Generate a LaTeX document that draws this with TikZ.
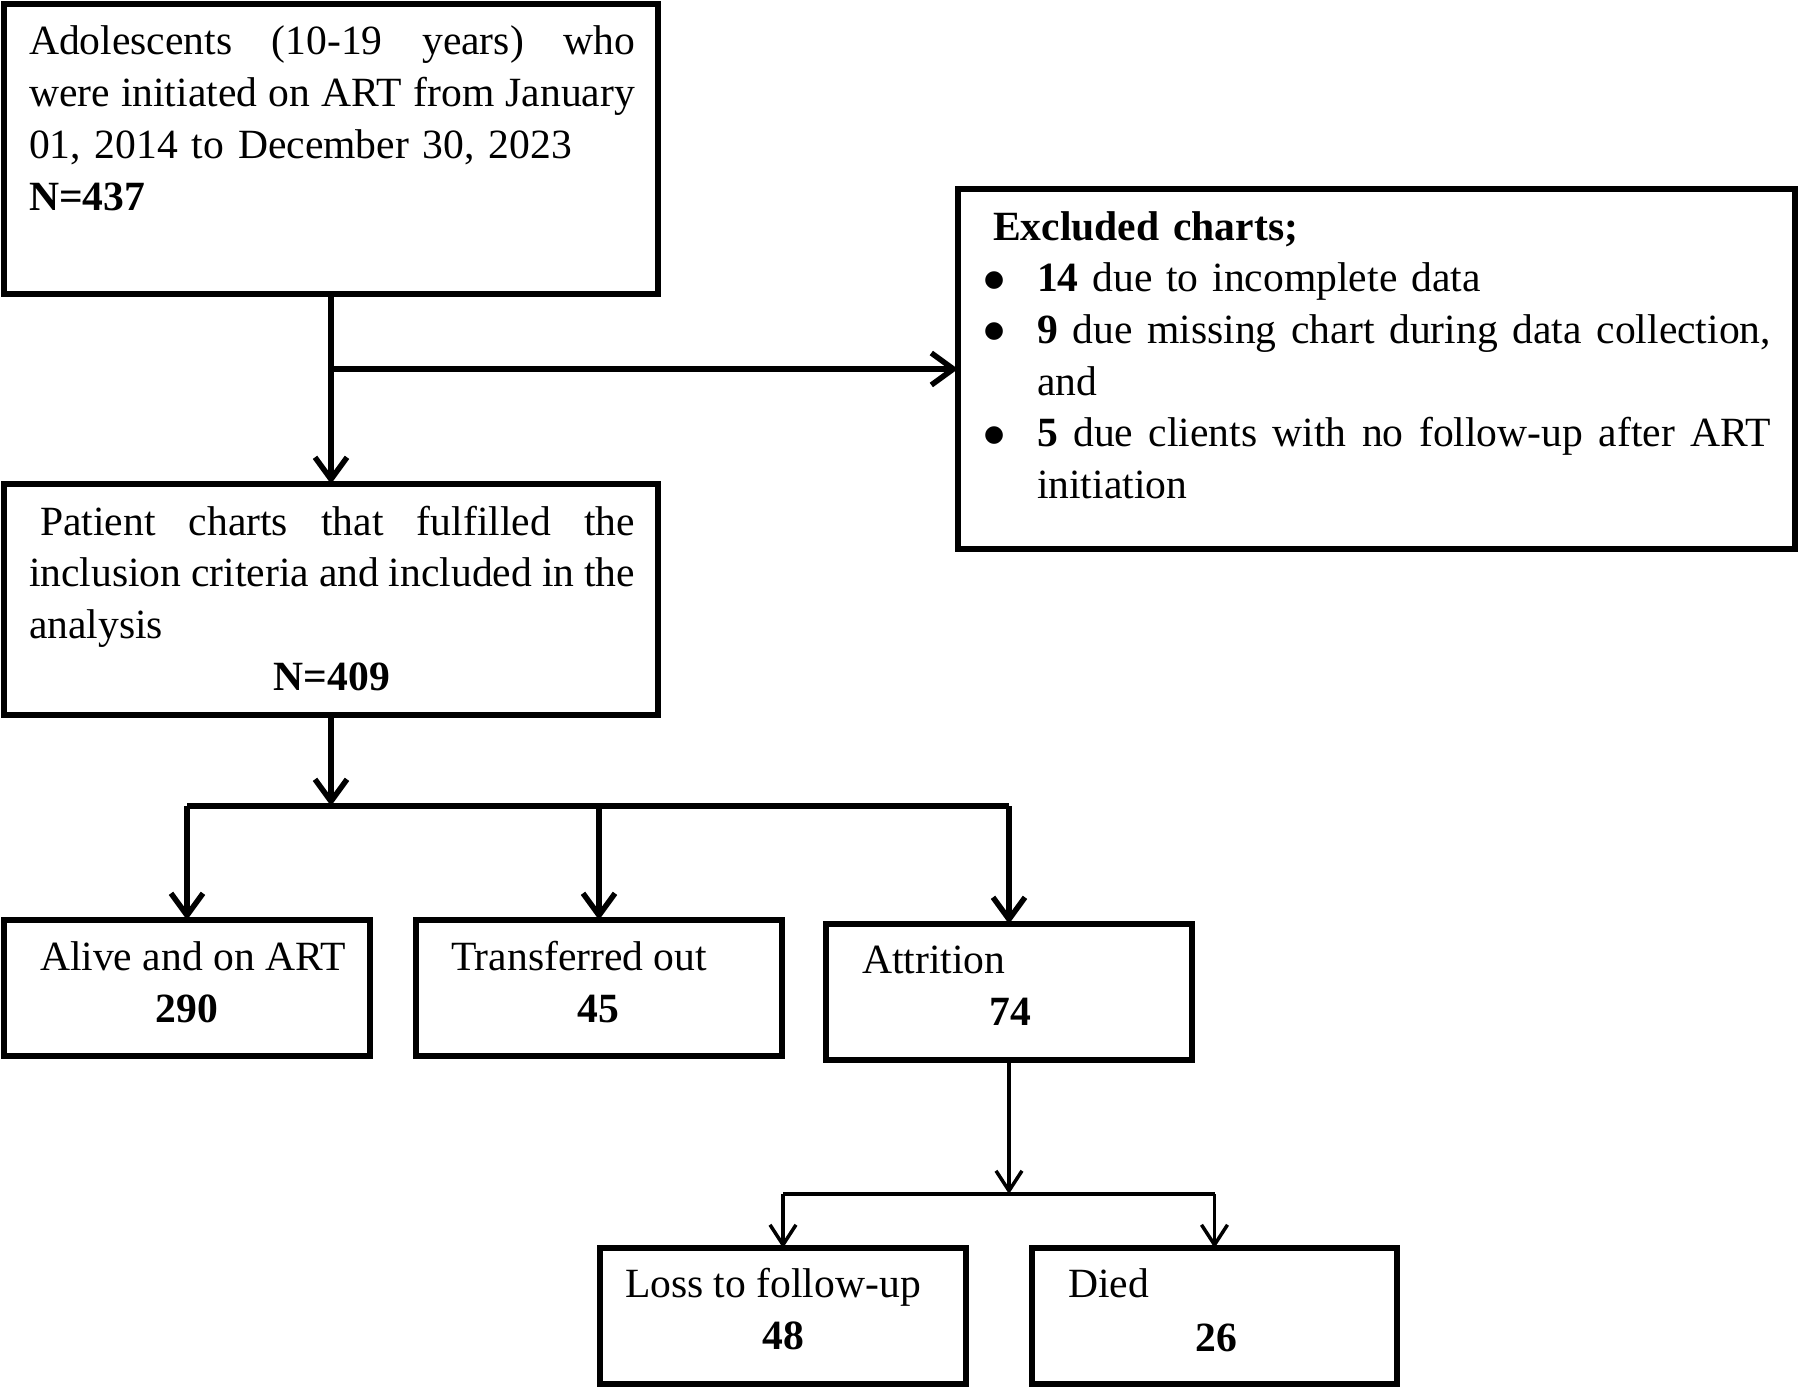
\documentclass[tikz,border=0pt]{standalone}
\usepackage{fontspec}
\setmainfont{Liberation Serif}
\newfontfamily\dejavu{DejaVu Sans}
\usetikzlibrary{arrows.meta}
\tikzset{
  box/.style={draw, line width=6pt, inner sep=0pt, outer sep=0pt, rectangle},
  txt/.style={inner sep=0pt, outer sep=0pt, font=\fontsize{41.6}{51.7}\selectfont},
  para/.style={txt, anchor=base west, align=left},
  conn/.style={line width=5.5pt},
  connthin/.style={line width=3.5pt},
  arr/.style={-{Straight Barb[length=22pt,width=32pt]}},
  arrs/.style={-{Straight Barb[length=20pt,width=26pt]}},
}
\newcommand{\jl}[2]{\makebox[#1][s]{\spaceskip=0pt\xspaceskip=0pt #2}}
\newcommand{\bul}{\makebox[47pt][l]{\hspace*{-6pt}\raisebox{5.5pt}{\dejavu\fontsize{23}{23}\selectfont ●}}}
\begin{document}
\begin{tikzpicture}[x=1pt,y=-1pt]
\useasboundingbox (0,0) rectangle (1800,1389);
% boxes
\node[box, minimum width=654pt, minimum height=290pt] (b1) at (331,149) {};
\node[box, minimum width=837pt, minimum height=360pt] (excl) at (1376.5,369) {};
\node[box, minimum width=654pt, minimum height=231pt] (pat) at (331,599.5) {};
\node[box, minimum width=366pt, minimum height=136pt] (alive) at (187,988) {};
\node[box, minimum width=366pt, minimum height=136pt] (trans) at (599,988) {};
\node[box, minimum width=366pt, minimum height=136pt] (att) at (1009,992) {};
\node[box, minimum width=366pt, minimum height=136pt] (loss) at (783,1316) {};
\node[box, minimum width=365pt, minimum height=136pt] (died) at (1214.5,1316) {};
% texts
\node[para, text width=606pt] (t1) at (29,55) {\jl{606pt}{Adolescents (10-19 years) who}\\
\jl{606pt}{were initiated on ART from January}\\
01, 2014 to December 30, 2023\\
\textbf{N=437}};
\node[para, text width=781pt] (t2) at (990,240) {\hspace*{3pt}\textbf{Excluded charts;}\\
\bul\textbf{14} due to incomplete data\\
\bul\jl{734pt}{\textbf{9} due missing chart during data collection,}\\
\hspace*{47pt}and\\
\bul\jl{734pt}{\textbf{5} due clients with no follow-up after ART}\\
\hspace*{47pt}initiation};
\node[para, text width=606pt] (t3) at (29,535) {\hspace*{11pt}\jl{595pt}{Patient charts that fulfilled the}\\
\jl{606pt}{inclusion criteria and included in the}\\
analysis\\
\makebox[606pt]{\textbf{N=409}}};
\node[txt, anchor=base west] (t4) at (40,970) {Alive and on ART};
\node[txt, anchor=base] (n4) at (187,1022) {\textbf{290}};
\node[txt, anchor=base west] (t5) at (451,970) {Transferred out};
\node[txt, anchor=base] (n5) at (598,1022) {\textbf{45}};
\node[txt, anchor=base west] (t6) at (862,973) {Attrition};
\node[txt, anchor=base] (n6) at (1010,1025) {\textbf{74}};
\node[txt, anchor=base west] (t7) at (625,1297) {Loss to follow-up};
\node[txt, anchor=base] (n7) at (783,1349) {\textbf{48}};
\node[txt, anchor=base west] (t8) at (1068,1297) {Died};
\node[txt, anchor=base] (n8) at (1216,1351) {\textbf{26}};
% connectors
\coordinate (j1) at (b1.south |- excl.west);
\draw[conn, arr] (b1.south) -- (pat.north);
\draw[conn, arr] (j1) -- (excl.west);
\coordinate (j2) at (331,806);
\draw[conn, arr] (pat.south) -- (j2);
\draw[conn] (alive.north |- j2) -- (att.north |- j2);
\draw[conn, arr] (alive.north |- j2) -- (alive.north);
\draw[conn, arr] (trans.north |- j2) -- (trans.north);
\draw[conn, arr] (att.north |- j2) -- (att.north);
\coordinate (j3) at (1009,1194);
\draw[connthin, arrs] (att.south) -- (j3);
\draw[connthin] (loss.north |- j3) -- (died.north |- j3);
\draw[connthin, arrs] (loss.north |- j3) -- (loss.north);
\draw[connthin, arrs] (died.north |- j3) -- (died.north);
\end{tikzpicture}
\end{document}
